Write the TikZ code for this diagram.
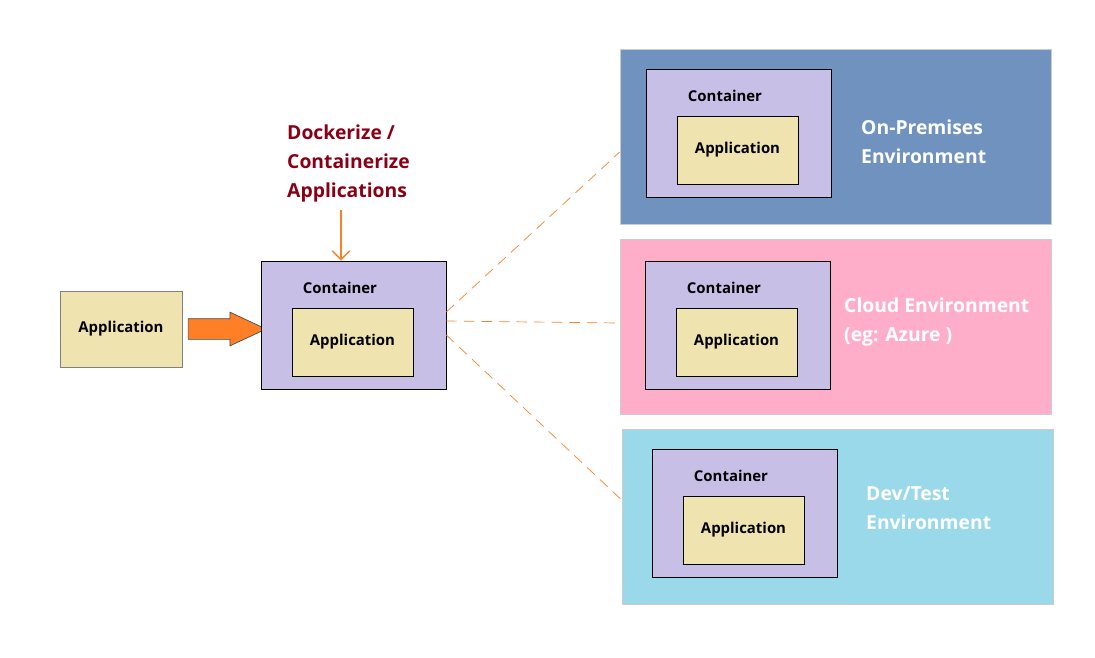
\documentclass[tikz,border=0pt]{standalone}
\usepackage{fontspec}
\setmainfont{Open Sans}
\usetikzlibrary{shapes.arrows,arrows.meta}
\definecolor{appfill}{HTML}{EFE4B0}
\definecolor{boxfill}{HTML}{C8BFE7}
\definecolor{premfill}{HTML}{7092BE}
\definecolor{cloudfill}{HTML}{FFAEC9}
\definecolor{devfill}{HTML}{99D9EA}
\definecolor{dockred}{HTML}{880015}
\definecolor{arrorange}{HTML}{FF7F27}
\tikzset{
  app/.style = {draw, fill = appfill, inner sep=0pt, minimum width=2.42cm, minimum height=1.36cm, font=\fontsize{8.5}{10}\selectfont\bfseries},
  cont/.style = {draw, fill = boxfill, inner sep=0pt, minimum width=3.7cm, minimum height=2.56cm},
  env/.style = {draw = gray!40, inner sep=0pt, minimum width=8.62cm, minimum height=3.5cm},
  lbl/.style = {font=\fontsize{8.5}{10}\selectfont\bfseries},
  envtext/.style = {text=white, align=left, anchor=north west, font=\fontsize{11}{16.5}\selectfont\bfseries},
  link/.style = {arrorange, dash pattern=on 6pt off 4pt, thin}
}
\begin{document}
\begin{tikzpicture}[x=0.02cm, y=-0.02cm]
\useasboundingbox (0,0) rectangle (1095,657);

\node[app, draw=gray, minimum width=2.44cm, minimum height=1.52cm] (A) at (121,329) {Application};
\node[single arrow, draw=black!70, fill=arrorange, minimum height=1.56cm, inner xsep=0pt, inner ysep=0.2cm, single arrow head extend=0.13cm, single arrow tip angle=50] (F) at (216,329) {};

\node[cont] (C) at (353.5,325) {};
\node[lbl] (CT) at (340,288) {Container};
\node[app] (CA) at (352.5,342) {Application};

\node[text=dockred, align=left, anchor=north west, font=\fontsize{11}{16.5}\selectfont\bfseries] (D) at (281,119) {Dockerize /\\Containerize\\Applications};
\coordinate (DT) at (341,210);
\draw[arrorange, thick, -{Straight Barb[length=5pt]}] (DT) -- (C.north -| DT);

% environments
\node[env, fill = premfill] (P) at (835.5,136.5) {};
\node[cont] (PC) at (738.5,133) {};
\node[lbl] at (725,96) {Container};
\node[app] (PA) at (737.5,150) {Application};
\node[envtext] at (855,114) {On-Premises\\Environment};

\node[env, fill = cloudfill] (K) at (835.5,326.5) {};
\node[cont] (KC) at (737.5,325) {};
\node[lbl] at (724,288) {Container};
\node[app] (KA) at (736.5,342) {Application};
\node[envtext] at (838,292) {Cloud Environment\\(eg: Azure )};

\node[env, fill = devfill] (V) at (837.5,517) {};
\node[cont] (VC) at (744.5,513) {};
\node[lbl] at (731,476) {Container};
\node[app] (VA) at (743.5,530) {Application};
\node[envtext] at (860,480) {Dev/Test\\Environment};

\draw[link] (C.east |- 0,312) -- (P.west |- 0,152);
\draw[link] (C.east |- 0,321) -- (K.west |- 0,323);
\draw[link] (C.east |- 0,335) -- (V.west |- 0,500);
\end{tikzpicture}
\end{document}
